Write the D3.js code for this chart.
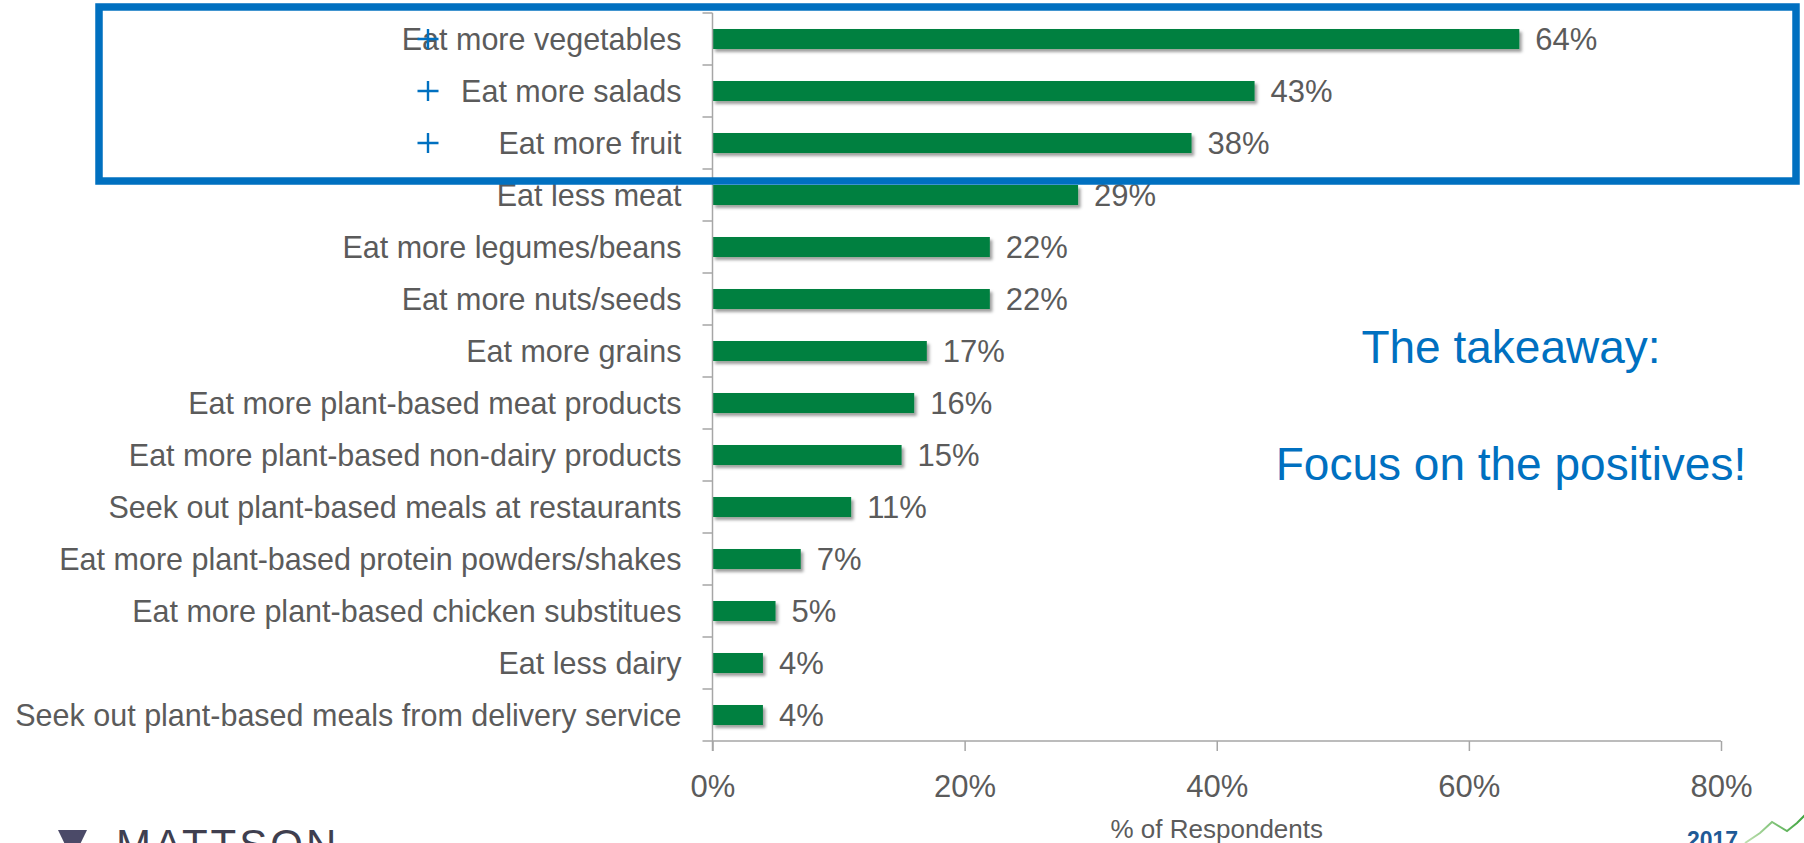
<!DOCTYPE html>
<html>
<head>
<meta charset="utf-8">
<script src="https://cdn.jsdelivr.net/npm/d3@7"></script>
<style>
  html, body { margin: 0; padding: 0; background: #ffffff; overflow: hidden; }
  svg { display: block; font-family: "Liberation Sans", Arial, Helvetica, sans-serif; }
</style>
</head>
<body>
<svg id="chart" width="1804" height="843"></svg>
<script>
// Survey answers, top to bottom
const categories = [
  "Eat more vegetables",
  "Eat more salads",
  "Eat more fruit",
  "Eat less meat",
  "Eat more legumes/beans",
  "Eat more nuts/seeds",
  "Eat more grains",
  "Eat more plant-based meat products",
  "Eat more plant-based non-dairy products",
  "Seek out plant-based meals at restaurants",
  "Eat more plant-based protein powders/shakes",
  "Eat more plant-based chicken substitues",
  "Eat less dairy",
  "Seek out plant-based meals from delivery service"
];
// Share of respondents (%)
const values = [64, 43, 38, 29, 22, 22, 17, 16, 15, 11, 7, 5, 4, 4];
// X axis ticks (%)
const xTicks = [0, 20, 40, 60, 80];
// Rows flagged as the positive changes
const highlighted = ["Eat more vegetables", "Eat more salads", "Eat more fruit"];

const svg = d3.select("#chart");
const GREEN = "#008040";
const BLUE = "#0070C0";
const TEXT = "#5b5b5b";
const AXIS = "#a6a6a6";

const plot = { left: 712.5, right: 1721, top: 13, bottom: 741 };

const x = d3.scaleLinear().domain([0, 80]).range([plot.left, plot.right]);
const y = d3.scaleBand()
  .domain(categories)
  .range([plot.top, plot.bottom])
  .paddingInner(0.615)
  .paddingOuter(0.3075);

// soft shadow under the bars
const defs = svg.append("defs");
const f = defs.append("filter").attr("id", "barShadow")
  .attr("x", "-5%").attr("y", "-50%").attr("width", "115%").attr("height", "220%");
f.append("feDropShadow")
  .attr("dx", 2.5).attr("dy", 3).attr("stdDeviation", 1.6)
  .attr("flood-color", "#000").attr("flood-opacity", 0.38);

const rows = categories.map((c, i) => ({ cat: c, val: values[i] }));

// bars
svg.append("g").selectAll("rect")
  .data(rows)
  .join("rect")
  .attr("x", x(0))
  .attr("y", d => y(d.cat))
  .attr("width", d => x(d.val) - x(0))
  .attr("height", y.bandwidth())
  .attr("fill", GREEN)
  .attr("filter", "url(#barShadow)");

// value labels
svg.append("g").selectAll("text")
  .data(rows)
  .join("text")
  .attr("x", d => x(d.val) + 16)
  .attr("y", d => y(d.cat) + y.bandwidth() / 2)
  .attr("dy", "0.36em")
  .attr("font-size", 31)
  .attr("fill", TEXT)
  .text(d => d.val + "%");

// y axis: vertical line plus ticks at the band boundaries
const yAxis = svg.append("g").attr("stroke", AXIS).attr("stroke-width", 1.5).attr("fill", "none");
yAxis.append("line")
  .attr("x1", x(0)).attr("x2", x(0))
  .attr("y1", plot.top).attr("y2", plot.bottom + 10);
const boundaries = categories.map(c => y(c) - y.step() * y.paddingInner() / 2);
boundaries.push(plot.bottom);
yAxis.selectAll("line.tick")
  .data(boundaries)
  .join("line")
  .attr("class", "tick")
  .attr("x1", x(0) - 10).attr("x2", x(0))
  .attr("y1", d => d).attr("y2", d => d);

// category labels
svg.append("g").selectAll("text")
  .data(categories)
  .join("text")
  .attr("x", x(0) - 31)
  .attr("y", d => y(d) + y.bandwidth() / 2)
  .attr("dy", "0.36em")
  .attr("text-anchor", "end")
  .attr("font-size", 30.5)
  .attr("fill", TEXT)
  .text(d => d);

// x axis
const xAxis = d3.axisBottom(x)
  .tickValues(xTicks)
  .tickSize(10)
  .tickPadding(12)
  .tickFormat(d => d + "%");
const gx = svg.append("g")
  .attr("transform", `translate(0,${plot.bottom})`)
  .call(xAxis);
gx.select(".domain").attr("stroke", AXIS).attr("stroke-width", 1.5)
  .attr("d", `M${plot.left},0H${plot.right}`);
gx.selectAll(".tick line").attr("stroke", AXIS).attr("stroke-width", 1.5);
gx.selectAll(".tick text")
  .attr("font-size", 31)
  .attr("font-family", "'Liberation Sans', Arial, sans-serif")
  .attr("fill", TEXT)
  .attr("dy", null)
  .attr("y", 56);

svg.append("text")
  .attr("x", (plot.left + plot.right) / 2)
  .attr("y", 838)
  .attr("text-anchor", "middle")
  .attr("font-size", 26)
  .attr("fill", TEXT)
  .text("% of Respondents");

// callout text
const note = svg.append("g").attr("fill", BLUE).attr("text-anchor", "middle").attr("font-size", 46);
note.append("text").attr("x", 1511).attr("y", 363).text("The takeaway:");
note.append("text").attr("x", 1511).attr("y", 480).text("Focus on the positives!");

// box around the positive rows
const first = highlighted[0], last = highlighted[highlighted.length - 1];
const boxTop = y(first) - 22;
const boxBottom = y(last) + y.bandwidth() + 28;
svg.append("rect")
  .attr("x", 99)
  .attr("y", boxTop)
  .attr("width", 1796 - 99)
  .attr("height", boxBottom - boxTop)
  .attr("fill", "none")
  .attr("stroke", BLUE)
  .attr("stroke-width", 7.5);

// plus markers
svg.append("g").selectAll("path")
  .data(highlighted)
  .join("path")
  .attr("d", d => {
    const cx = 428, cy = y(d) + y.bandwidth() / 2;
    return `M${cx - 10.5},${cy}H${cx + 10.5}M${cx},${cy - 10}V${cy + 10}`;
  })
  .attr("stroke", BLUE)
  .attr("stroke-width", 2.4)
  .attr("fill", "none");

// footer logos (run off the bottom edge)
const logo = svg.append("g");
logo.append("path")
  .attr("d", "M58,830H87L72.5,860Z")
  .attr("fill", "#4b4a68");
logo.append("text")
  .attr("x", 116).attr("y", 859)
  .attr("font-size", 42)
  .attr("letter-spacing", 3)
  .attr("fill", "#3f3f4f")
  .text("MATTSON");

const badge = svg.append("g");
badge.append("text")
  .attr("x", 1687).attr("y", 848)
  .attr("font-size", 23)
  .attr("font-weight", "bold")
  .attr("fill", "#1f5a96")
  .text("2017");
const lg = defs.append("linearGradient").attr("id", "trend").attr("x1", 0).attr("x2", 1).attr("y1", 0).attr("y2", 0);
lg.append("stop").attr("offset", 0).attr("stop-color", "#bfe0b0");
lg.append("stop").attr("offset", 1).attr("stop-color", "#3aa23a");
badge.append("polyline")
  .attr("points", "1745,843 1760,833 1772,822 1787,831 1797,823 1806,814")
  .attr("fill", "none")
  .attr("stroke", "url(#trend)")
  .attr("stroke-width", 2);
</script>
</body>
</html>
